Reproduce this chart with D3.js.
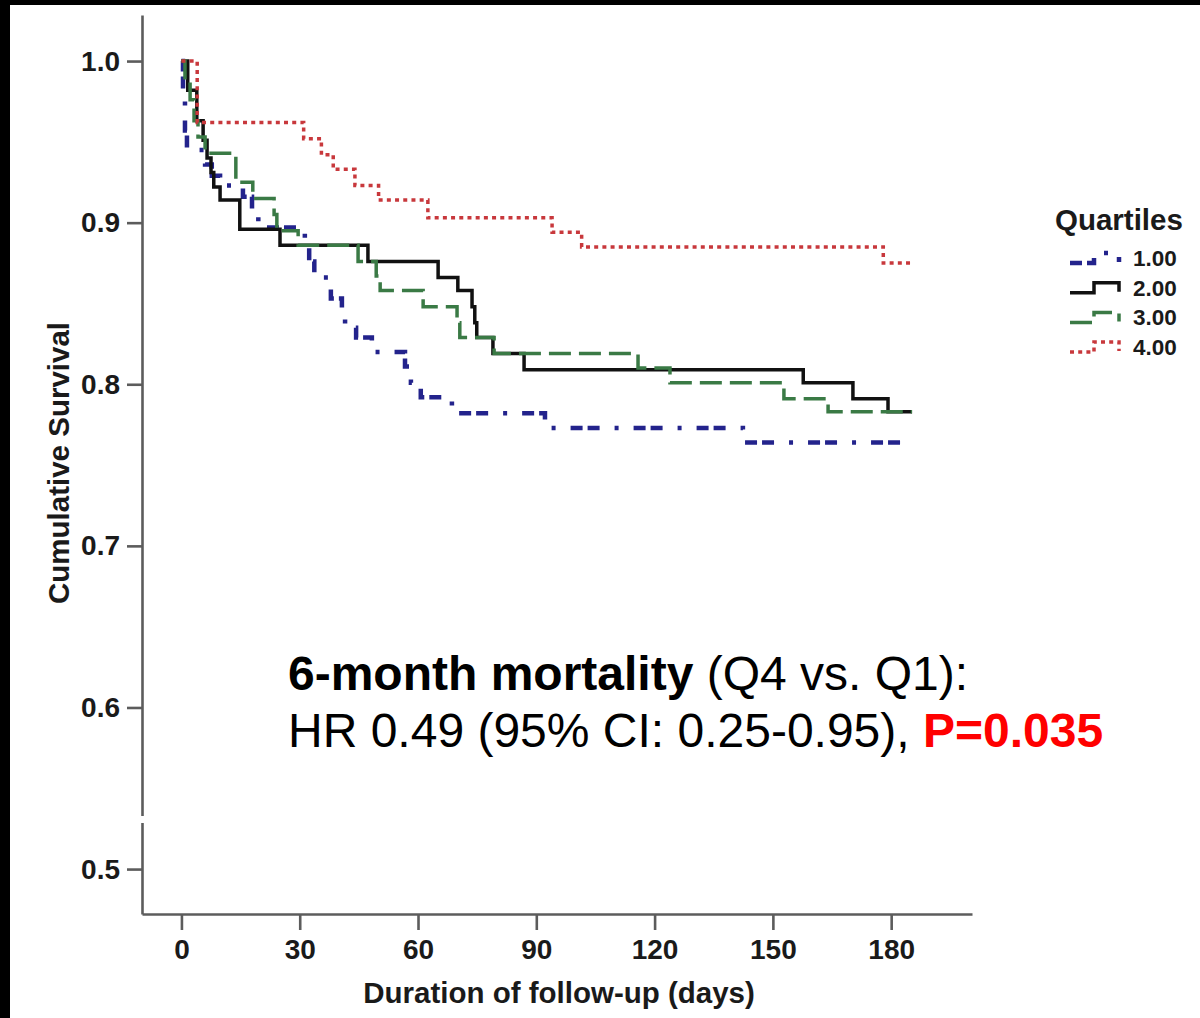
<!DOCTYPE html>
<html>
<head>
<meta charset="utf-8">
<script src="https://cdn.jsdelivr.net/npm/d3@7"></script>
<style>
  html, body { margin: 0; padding: 0; background: #fff; }
  svg { display: block; font-family: "Liberation Sans", Arial, Helvetica, sans-serif; }
</style>
</head>
<body>
<svg width="1200" height="1018"></svg>
<script>
// Kaplan-Meier steps: day of each drop and survival after it
const q1Days = [0, 0.4, 0.9, 1.4, 6.0, 7.7, 9.8, 15.6, 17.9, 19.5, 31.3, 32.4, 33.7, 37.9, 40.7, 41.5, 44.3, 48.3, 56.7, 58.2, 60.7, 68.6, 92.2, 142.4, 185.5];
const q1Surv = [1, 0.976, 0.957, 0.945, 0.936, 0.929, 0.923, 0.916, 0.908, 0.897, 0.886, 0.876, 0.866, 0.853, 0.844, 0.835, 0.829, 0.820, 0.811, 0.801, 0.792, 0.782, 0.773, 0.764, 0.764];

const q2Days = [0, 1.6, 3.9, 5.5, 6.5, 7.5, 8.2, 9.8, 14.8, 25.0, 47.3, 65.1, 70.1, 73.7, 74.4, 74.9, 79.0, 86.9, 157.7, 170.3, 179.2, 185.3];
const q2Surv = [1, 0.982, 0.963, 0.951, 0.940, 0.931, 0.922, 0.914, 0.896, 0.886, 0.876, 0.866, 0.858, 0.848, 0.838, 0.829, 0.819, 0.809, 0.801, 0.791, 0.783, 0.783];

const q3Days = [0, 0.9, 2.2, 3.2, 4.2, 6.0, 13.8, 18.1, 23.5, 24.2, 29.6, 44.8, 49.4, 50.4, 61.3, 69.9, 70.6, 79.3, 115.8, 123.9, 152.8, 164.0, 185.3];
const q3Surv = [1, 0.988, 0.976, 0.963, 0.953, 0.943, 0.925, 0.915, 0.905, 0.895, 0.886, 0.876, 0.867, 0.858, 0.848, 0.838, 0.829, 0.819, 0.810, 0.801, 0.791, 0.783, 0.783];

const q4Days = [0, 4, 31, 35.5, 38.5, 44, 50, 62.5, 94, 101.5, 178, 185];
const q4Surv = [1, 0.962, 0.952, 0.942, 0.933, 0.923, 0.914, 0.903, 0.894, 0.885, 0.875, 0.875];

const quartileLabels = ["1.00", "2.00", "3.00", "4.00"];
const xTicks = [0, 30, 60, 90, 120, 150, 180];
const yTicks = [0.5, 0.6, 0.7, 0.8, 0.9, 1.0];

const svg = d3.select("svg");

// frame edges of the original picture
svg.append("rect").attr("x", 0).attr("y", 0).attr("width", 1200).attr("height", 5).attr("fill", "#000");
svg.append("rect").attr("x", 0).attr("y", 0).attr("width", 10).attr("height", 1018).attr("fill", "#000");

const x = d3.scaleLinear().domain([-10, 200.5]).range([142, 972]);
const y = d3.scaleLinear().domain([0.4722, 1.0285]).range([914, 15]);

// styles per quartile
const styles = [
    { color: "#23238c", dash: "12,5,12,15,4,15", width: 4.5 },
    { color: "#111111", dash: null, width: 3.5 },
    { color: "#3a7a45", dash: "22,8", width: 3.5 },
    { color: "#c8383c", dash: "4,4.2", width: 3.5 }
];

const series = [
    { days: q1Days, surv: q1Surv },
    { days: q2Days, surv: q2Surv },
    { days: q3Days, surv: q3Surv },
    { days: q4Days, surv: q4Surv }
].map((s, i) => ({
    label: quartileLabels[i],
    points: s.days.map((d, j) => [d, s.surv[j]]),
    style: styles[i]
}));

// axes
const axisColor = "#5c5c5c";

const yAxis = svg.append("g")
    .attr("transform", "translate(142,0)")
    .call(d3.axisLeft(y).tickValues(yTicks).tickFormat(d3.format(".1f"))
        .tickSizeInner(15).tickSizeOuter(0).tickPadding(7));

const xAxis = svg.append("g")
    .attr("transform", "translate(0,914)")
    .call(d3.axisBottom(x).tickValues(xTicks).tickFormat(d3.format("d"))
        .tickSizeInner(16).tickSizeOuter(0).tickPadding(9));

[xAxis, yAxis].forEach(a => {
    a.select(".domain").attr("stroke", axisColor).attr("stroke-width", 2.6);
    a.selectAll(".tick line").attr("stroke", axisColor).attr("stroke-width", 2.6);
    a.selectAll(".tick text")
        .attr("fill", "#1a1a1a")
        .attr("font-size", 28)
        .attr("font-weight", "bold")
        .attr("font-family", "Liberation Sans, Arial, sans-serif");
});

// axis break on the y axis
svg.append("rect").attr("x", 138).attr("y", 816).attr("width", 8).attr("height", 7).attr("fill", "#fff");

// axis titles
svg.append("text")
    .attr("x", 559).attr("y", 1003)
    .attr("text-anchor", "middle")
    .attr("font-size", 29.5).attr("font-weight", "bold").attr("fill", "#1a1a1a")
    .text("Duration of follow-up (days)");

svg.append("text")
    .attr("transform", "translate(69,463) rotate(-90)")
    .attr("text-anchor", "middle")
    .attr("font-size", 29.5).attr("font-weight", "bold").attr("fill", "#1a1a1a")
    .text("Cumulative Survival");

// survival curves
const line = d3.line()
    .x(d => x(d[0]))
    .y(d => y(d[1]))
    .curve(d3.curveStepAfter);

svg.append("g")
    .selectAll("path")
    .data(series)
    .enter().append("path")
    .attr("d", d => line(d.points))
    .attr("fill", "none")
    .attr("stroke", d => d.style.color)
    .attr("stroke-width", d => d.style.width)
    .attr("stroke-dasharray", d => d.style.dash);

// legend
const legend = svg.append("g");

legend.append("text")
    .attr("x", 1055).attr("y", 230)
    .attr("font-size", 29.5).attr("font-weight", "bold").attr("fill", "#1a1a1a")
    .text("Quartiles");

const legendRow = legend.selectAll("g.row")
    .data(series)
    .enter().append("g")
    .attr("class", "row")
    .attr("transform", (d, i) => `translate(0,${266 + i * 29.7})`);

legendRow.append("path")
    .attr("d", "M1070,-3H1094V-13H1119V-4")
    .attr("fill", "none")
    .attr("stroke", d => d.style.color)
    .attr("stroke-width", d => d.style.width)
    .attr("stroke-dasharray", d => d.style.dash);

legendRow.append("text")
    .attr("x", 1133).attr("y", 0)
    .attr("font-size", 22.5).attr("font-weight", "bold").attr("fill", "#1a1a1a")
    .text(d => d.label);

// annotation
const note = svg.append("g").attr("font-size", 48).attr("fill", "#000");

const line1 = note.append("text").attr("x", 288).attr("y", 690);
line1.append("tspan").attr("font-weight", "bold").text("6-month mortality");
line1.append("tspan").text(" (Q4 vs. Q1):");

const line2 = note.append("text").attr("x", 288).attr("y", 747);
line2.append("tspan").text("HR 0.49 (95% CI: 0.25-0.95), ");
line2.append("tspan").attr("font-weight", "bold").attr("fill", "#ff0000").text("P=0.035");
</script>
</body>
</html>
